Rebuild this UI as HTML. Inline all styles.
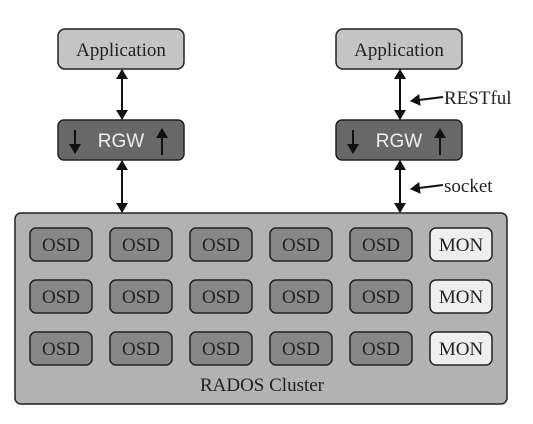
<!DOCTYPE html>
<html><head><style>
body{margin:0;background:#fff;}
svg text{font-family:"Liberation Serif",serif;}
</style></head><body>
<svg width="533" height="419" xmlns="http://www.w3.org/2000/svg">
<defs>
<marker id="a" markerWidth="10" markerHeight="12" refX="9" refY="6" orient="auto" markerUnits="userSpaceOnUse"><path d="M0,0 L10,6 L0,12 z" fill="#111"/></marker>
<marker id="b" markerWidth="10" markerHeight="12" refX="1" refY="6" orient="auto" markerUnits="userSpaceOnUse"><path d="M10,0 L0,6 L10,12 z" fill="#111"/></marker>
</defs>
<rect width="533" height="419" fill="#fff"/>
<rect x="58" y="29" width="126" height="40" rx="7" fill="#c4c4c4" stroke="#222" stroke-width="1.5"/>
<text x="121" y="56" font-size="19" text-anchor="middle" fill="#222">Application</text>
<rect x="336" y="29" width="126" height="40" rx="7" fill="#c4c4c4" stroke="#222" stroke-width="1.5"/>
<text x="399" y="56" font-size="19" text-anchor="middle" fill="#222">Application</text>
<rect x="58" y="120" width="126" height="40" rx="6" fill="#686868" stroke="#222" stroke-width="1.5"/>
<text x="121" y="147" font-size="19" text-anchor="middle" fill="#eee" style="font-family:'Liberation Sans',sans-serif">RGW</text>
<rect x="336" y="120" width="126" height="40" rx="6" fill="#686868" stroke="#222" stroke-width="1.5"/>
<text x="399" y="147" font-size="19" text-anchor="middle" fill="#eee" style="font-family:'Liberation Sans',sans-serif">RGW</text>
<g stroke="#111" stroke-width="2">
<line x1="75" y1="130" x2="75" y2="153" marker-end="url(#a)"/>
<line x1="162" y1="155" x2="162" y2="129" marker-end="url(#a)"/>
<line x1="353" y1="130" x2="353" y2="153" marker-end="url(#a)"/>
<line x1="440" y1="155" x2="440" y2="129" marker-end="url(#a)"/>
<line x1="122" y1="70" x2="122" y2="119" marker-start="url(#b)" marker-end="url(#a)"/>
<line x1="400" y1="70" x2="400" y2="119" marker-start="url(#b)" marker-end="url(#a)"/>
<line x1="122" y1="161" x2="122" y2="212" marker-start="url(#b)" marker-end="url(#a)"/>
<line x1="400" y1="161" x2="400" y2="212" marker-start="url(#b)" marker-end="url(#a)"/>
<line x1="443" y1="97" x2="411" y2="101" marker-end="url(#a)"/>
<line x1="443" y1="185" x2="411" y2="189" marker-end="url(#a)"/>
</g>
<text x="444" y="104" font-size="19" fill="#222">RESTful</text>
<text x="444" y="192" font-size="19" fill="#222">socket</text>
<rect x="15" y="213" width="492" height="191" rx="6" fill="#b2b2b2" stroke="#222" stroke-width="1.5"/>
<g font-size="19" text-anchor="middle" fill="#222">
<g id="row">
<rect x="30" y="228" width="62" height="33" rx="6" fill="#878787" stroke="#222" stroke-width="1.5"/><text x="61" y="251">OSD</text>
<rect x="110" y="228" width="62" height="33" rx="6" fill="#878787" stroke="#222" stroke-width="1.5"/><text x="141" y="251">OSD</text>
<rect x="190" y="228" width="62" height="33" rx="6" fill="#878787" stroke="#222" stroke-width="1.5"/><text x="221" y="251">OSD</text>
<rect x="270" y="228" width="62" height="33" rx="6" fill="#878787" stroke="#222" stroke-width="1.5"/><text x="301" y="251">OSD</text>
<rect x="350" y="228" width="62" height="33" rx="6" fill="#878787" stroke="#222" stroke-width="1.5"/><text x="381" y="251">OSD</text>
<rect x="430" y="228" width="62" height="33" rx="6" fill="#eee" stroke="#222" stroke-width="1.5"/><text x="461" y="251">MON</text>
</g>
<use href="#row" y="52"/>
<use href="#row" y="104"/>
</g>
<text x="262" y="391" font-size="19" text-anchor="middle" fill="#222">RADOS Cluster</text>
</svg>
</body></html>
